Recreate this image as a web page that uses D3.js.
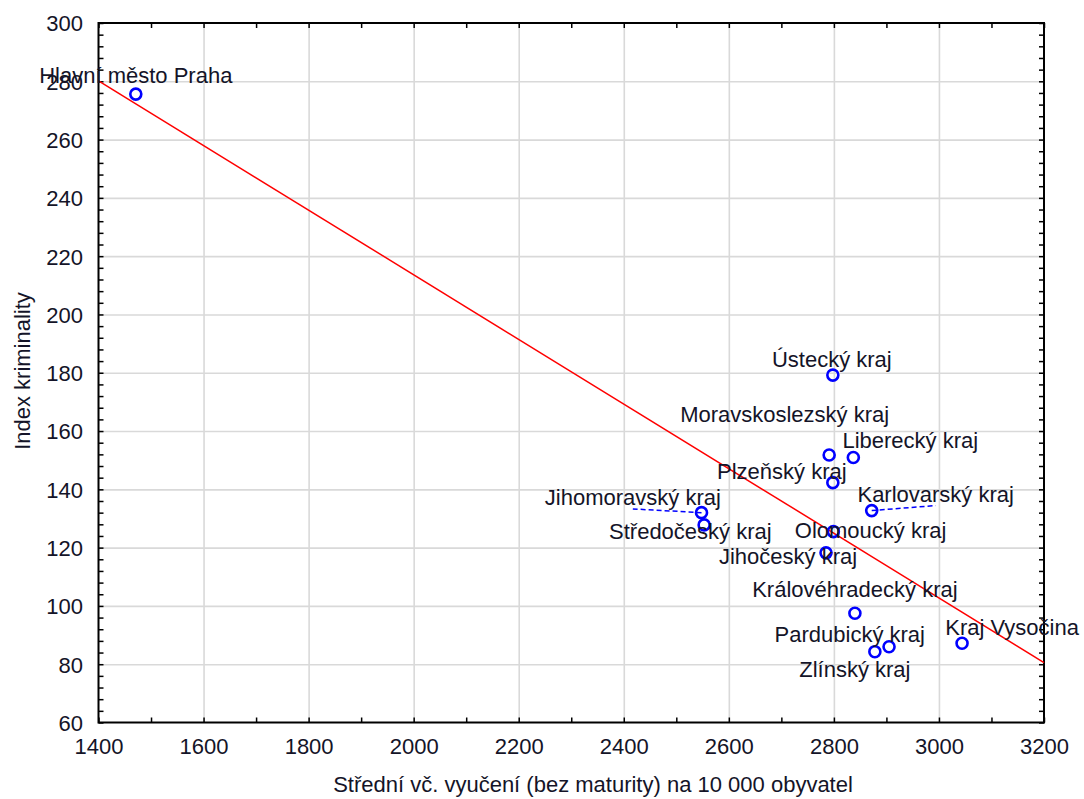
<!DOCTYPE html>
<html>
<head>
<meta charset="utf-8">
<script src="https://cdn.jsdelivr.net/npm/d3@7"></script>
<style>
  html, body { margin: 0; padding: 0; background: #fff; }
  svg { display: block; font-family: "Liberation Sans", Arial, sans-serif; }
</style>
</head>
<body>
<svg id="chart" width="1084" height="799"></svg>
<script>
// ---- data ----
const regions = ["Hlavní město Praha", "Ústecký kraj", "Moravskoslezský kraj", "Liberecký kraj",
  "Plzeňský kraj", "Karlovarský kraj", "Jihomoravský kraj", "Středočeský kraj", "Olomoucký kraj",
  "Jihočeský kraj", "Královéhradecký kraj", "Pardubický kraj", "Zlínský kraj", "Kraj Vysočina"];
const vyuceni = [1471, 2798, 2791, 2837, 2798, 2872, 2548, 2553, 2799, 2785, 2840, 2905, 2878, 3044];
const kriminalita = [275.6, 179.2, 151.8, 150.9, 142.3, 132.7, 132.0, 127.8, 125.5, 118.2, 97.5, 86.0, 84.3, 87.2];
const xTicks = [1400, 1600, 1800, 2000, 2200, 2400, 2600, 2800, 3000, 3200];
const yTicks = [60, 80, 100, 120, 140, 160, 180, 200, 220, 240, 260, 280, 300];
const xTitle = "Střední vč. vyučení (bez maturity) na 10 000 obyvatel";
const yTitle = "Index kriminality";

// label placement (text centre offset dx, baseline offset dy, leader line)
const labelDx = [0, -1, -44.5, 57, -51, 64, -68.7, -13.8, 37.2, -38, 0, -39.3, -20, 50];
const labelDy = [-10.7, -8.3, -33, -9.4, -4, -9, -7.7, 14.3, 6.6, 11, -16, -5, 25.6, -8.3];
const labelLeader = [false, false, false, false, false, true, true, false, false, false, false, false, false, false];

// ---- layout ----
const svg = d3.select("#chart");
const L = 98.5, R = 1044, T = 23, B = 722.5;
const x = d3.scaleLinear().domain([1400, 3200]).range([L, R]);
const y = d3.scaleLinear().domain([60, 300]).range([B, T]);
const FS = 22;
const textCol = "#141428";

// gridlines
svg.append("g").attr("transform", `translate(0,${B})`)
  .call(d3.axisBottom(x).tickValues(xTicks.slice(1, -1)).tickSize(-(B - T)).tickFormat(""))
  .call(g => g.select(".domain").remove())
  .call(g => g.selectAll("line").attr("stroke", "#d9d9d9").attr("stroke-width", 1.6));
svg.append("g").attr("transform", `translate(${L},0)`)
  .call(d3.axisLeft(y).tickValues(yTicks.slice(1, -1)).tickSize(-(R - L)).tickFormat(""))
  .call(g => g.select(".domain").remove())
  .call(g => g.selectAll("line").attr("stroke", "#d9d9d9").attr("stroke-width", 1.6));

// inward ticks on all four sides
const xMinor = d3.range(1400, 3201, 100);
const yMinor = d3.range(60, 301, 4);
const tickLen = 5;
function tickStyle(g) {
  g.select(".domain").remove();
  g.selectAll("line").attr("stroke", "#000").attr("stroke-width", 1.5);
}
svg.append("g").attr("transform", `translate(0,${B})`)
  .call(d3.axisBottom(x).tickValues(xMinor).tickSize(-tickLen).tickFormat("")).call(tickStyle);
svg.append("g").attr("transform", `translate(0,${T})`)
  .call(d3.axisTop(x).tickValues(xMinor).tickSize(-tickLen).tickFormat("")).call(tickStyle);
svg.append("g").attr("transform", `translate(${L},0)`)
  .call(d3.axisLeft(y).tickValues(yMinor).tickSize(-tickLen).tickFormat("")).call(tickStyle);
svg.append("g").attr("transform", `translate(${R},0)`)
  .call(d3.axisRight(y).tickValues(yMinor).tickSize(-tickLen).tickFormat("")).call(tickStyle);

// tick labels
svg.append("g").attr("transform", `translate(0,${B})`)
  .call(d3.axisBottom(x).tickValues(xTicks).tickSize(0).tickPadding(0).tickFormat(d3.format("d")))
  .call(g => g.select(".domain").remove())
  .call(g => g.selectAll("text").attr("y", 31).attr("dy", 0)
    .attr("font-size", FS).attr("font-family", "Liberation Sans, Arial, sans-serif").attr("fill", textCol));
svg.append("g").attr("transform", `translate(${L},0)`)
  .call(d3.axisLeft(y).tickValues(yTicks).tickSize(0).tickPadding(0).tickFormat(d3.format("d")))
  .call(g => g.select(".domain").remove())
  .call(g => g.selectAll("text").attr("x", -15.5).attr("dy", 7.9)
    .attr("font-size", FS).attr("font-family", "Liberation Sans, Arial, sans-serif").attr("fill", textCol));

// frame
svg.append("rect").attr("x", L).attr("y", T).attr("width", R - L).attr("height", B - T)
  .attr("fill", "none").attr("stroke", "#000").attr("stroke-width", 2);

// regression line (least squares)
const mx = d3.mean(vyuceni), my = d3.mean(kriminalita);
const sxy = d3.sum(vyuceni, (v, i) => (v - mx) * (kriminalita[i] - my));
const sxx = d3.sum(vyuceni, v => (v - mx) * (v - mx));
const slope = sxy / sxx, icpt = my - slope * mx;
svg.append("line")
  .attr("x1", x(1400)).attr("y1", y(icpt + slope * 1400))
  .attr("x2", x(3200)).attr("y2", y(icpt + slope * 3200))
  .attr("stroke", "#ff0000").attr("stroke-width", 1.5);

// leader lines
const pts = regions.map((r, i) => ({ name: r, vx: vyuceni[i], vy: kriminalita[i],
  dx: labelDx[i], dy: labelDy[i], leader: labelLeader[i] }));
svg.append("g").selectAll("line").data(pts.filter(d => d.leader)).join("line")
  .attr("x1", d => x(d.vx)).attr("y1", d => y(d.vy))
  .attr("x2", d => x(d.vx) + d.dx).attr("y2", d => y(d.vy) + d.dy + 4)
  .attr("stroke", "#0000ff").attr("stroke-width", 1.5).attr("stroke-dasharray", "5,3");

// points
svg.append("g").selectAll("circle").data(pts).join("circle")
  .attr("cx", d => x(d.vx)).attr("cy", d => y(d.vy)).attr("r", 5.5)
  .attr("fill", "none").attr("stroke", "#0000ff").attr("stroke-width", 2.6);

// point labels
svg.append("g").selectAll("text").data(pts).join("text")
  .attr("x", d => x(d.vx) + d.dx).attr("y", d => y(d.vy) + d.dy)
  .attr("text-anchor", "middle").attr("font-size", FS).attr("fill", textCol)
  .text(d => d.name);

// axis titles
svg.append("text").attr("x", 593).attr("y", 792).attr("text-anchor", "middle")
  .attr("font-size", FS).attr("fill", textCol).text(xTitle);
svg.append("text").attr("transform", "translate(29.5,371) rotate(-90)").attr("text-anchor", "middle")
  .attr("font-size", FS).attr("fill", textCol).text(yTitle);
</script>
</body>
</html>
